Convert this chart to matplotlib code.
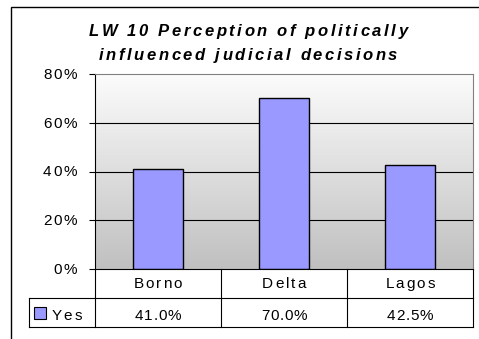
import numpy as np
import matplotlib.pyplot as plt
import matplotlib.patches as mpatches
from matplotlib.colors import LinearSegmentedColormap

plt.rcParams['font.family'] = ['Liberation Sans', 'DejaVu Sans']

# Share answering "Yes" per state
states = ['Borno', 'Delta', 'Lagos']
yes_share = [41.0, 70.0, 42.5]
series_name = 'Yes'
title_lines = ['LW 10 Perception of politically', 'influenced judicial decisions']
y_ticks = [0, 20, 40, 60, 80]

W, H = 479, 339
fig = plt.figure(figsize=(W / 100, H / 100), dpi=100)
fig.patch.set_facecolor('white')
renderer = fig.canvas.get_renderer()


# Excel-style text with extra letter spacing, placed in pixel coords
# (y measured from the top of the figure, at the baseline)
def spaced_text(x_px, y_px, s, track, ha='center', **kw):
    def width(t):
        tmp = fig.text(0, 0, t, **kw)
        w = tmp.get_window_extent(renderer).width
        tmp.remove()
        return w
    base = width('ii')
    adv = [width('i' + c + 'i') - base for c in s]
    total = sum(adv) + track * (len(s) - 1)
    if ha == 'center':
        x0 = x_px - total / 2
    elif ha == 'right':
        x0 = x_px - total
    else:
        x0 = x_px
    for c, a in zip(s, adv):
        fig.text(x0 / W, 1 - y_px / H, c, ha='left', va='baseline', **kw)
        x0 += a + track


# chart frame (runs off the right and bottom edge)
fig.patches.append(mpatches.Rectangle((11 / W, -0.1), 1.2, 1 - 7 / H + 0.1,
                                      transform=fig.transFigure, fill=False,
                                      edgecolor='black', lw=1.0))

ax_l, ax_t, ax_w, ax_h = 95, 74, 378, 195
ax = fig.add_axes([ax_l / W, 1 - (ax_t + ax_h) / H, ax_w / W, ax_h / H])
x = np.arange(len(states))
ax.set_xlim(-0.5, len(states) - 0.5)
ax.set_ylim(0, 80)

# grey gradient behind the plot area
grad = np.linspace(0, 1, 256).reshape(-1, 1)
ax.imshow(grad, extent=(-0.5, len(states) - 0.5, 0, 80), aspect='auto',
          cmap=LinearSegmentedColormap.from_list('bg', ['#c0c0c0', '#fcfcfc']),
          origin='lower', zorder=0)

for t in y_ticks[1:-1]:
    ax.axhline(t, color='black', lw=0.8, zorder=1)

ax.bar(x, yes_share, width=0.4, color='#9999ff', edgecolor='black',
       lw=1.0, zorder=2)

ax.set_yticks(y_ticks)
ax.set_yticklabels([])
ax.tick_params(axis='y', direction='out', length=4.5, width=0.8)
ax.set_xticks([])
for side in ['top', 'right']:
    ax.spines[side].set_color('#808080')
    ax.spines[side].set_linewidth(0.8)
ax.spines['left'].set_linewidth(0.8)
ax.spines['bottom'].set_linewidth(0.8)

for t in y_ticks:
    y_px = ax_t + ax_h * (1 - t / 80) + 5
    spaced_text(77, y_px, '%d%%' % t, 1.7, ha='right', fontsize=11)

# data table under the axis
rh = 29 / ax_h
leg_left = (29 - ax_l) / ax_w
n = len(states)
kw = dict(transform=ax.transAxes, color='black', lw=0.8, clip_on=False)
ax.plot([0, 0], [0, -2 * rh], **kw)
for i in range(1, n + 1):
    ax.plot([i / n, i / n], [0, -2 * rh], **kw)
ax.plot([leg_left, 1], [-rh, -rh], **kw)
ax.plot([leg_left, 1], [-2 * rh, -2 * rh], **kw)
ax.plot([leg_left, leg_left], [-rh, -2 * rh], **kw)

col_w = ax_w / n
for i, (s, v) in enumerate(zip(states, yes_share)):
    cx = ax_l + (i + 0.5) * col_w
    spaced_text(cx, 288, s, 2.0, fontsize=11)
    spaced_text(cx, 320, '%.1f%%' % v, 0.7, fontsize=11)

sq = 12
ax.add_patch(mpatches.Rectangle((leg_left + 5 / ax_w, -1.5 * rh - sq / 2 / ax_h),
                                sq / ax_w, sq / ax_h, transform=ax.transAxes,
                                facecolor='#9999ff', edgecolor='black',
                                lw=0.8, clip_on=False))
spaced_text(52, 320, series_name, 2.3, ha='left', fontsize=11)

spaced_text(248, 36, title_lines[0], 2.6, fontsize=12, fontweight='bold',
            fontstyle='italic')
spaced_text(248, 60, title_lines[1], 2.6, fontsize=12, fontweight='bold',
            fontstyle='italic')

fig.savefig('out.png', dpi=100)
